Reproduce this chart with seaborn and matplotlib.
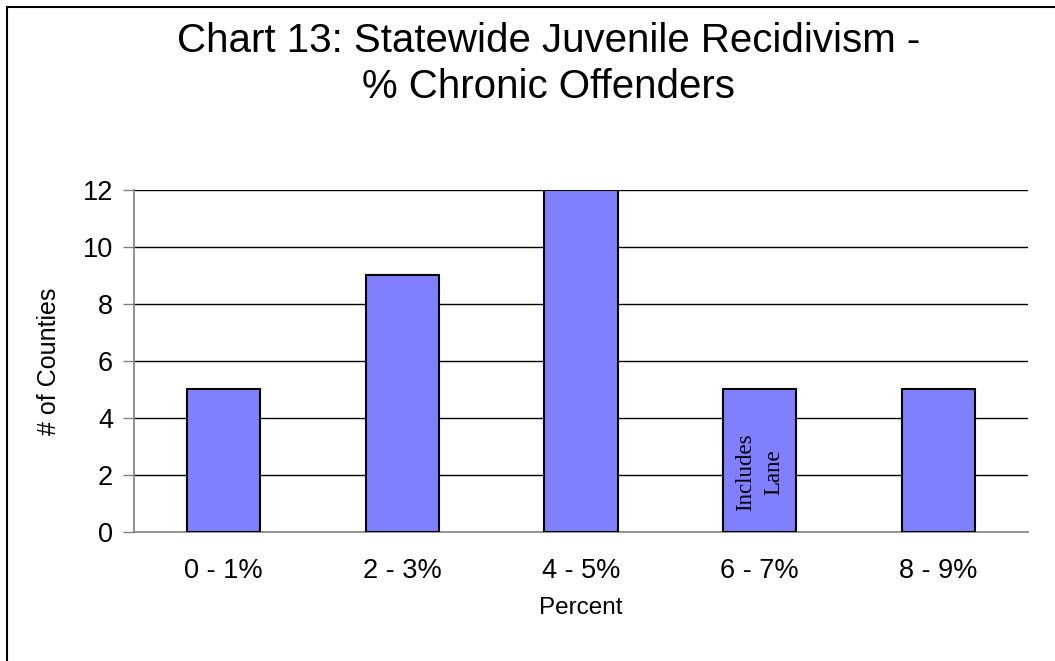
import matplotlib
matplotlib.use("Agg")
import matplotlib.pyplot as plt
import seaborn as sns
import pandas as pd
from matplotlib.patches import Rectangle

categories = ["0 - 1%", "2 - 3%", "4 - 5%", "6 - 7%", "8 - 9%"]
counts = [5, 9, 12, 5, 5]
yticks = [0, 2, 4, 6, 8, 10, 12]
title_lines = ["Chart 13: Statewide Juvenile Recidivism -", "% Chronic Offenders"]

sns.set_theme(style="white")
plt.rcParams['font.family'] = ['Liberation Sans', 'DejaVu Sans']
plt.rcParams['text.color'] = 'black'
plt.rcParams['axes.labelcolor'] = 'black'
plt.rcParams['xtick.color'] = 'black'
plt.rcParams['ytick.color'] = 'black'

df = pd.DataFrame({"Percent": categories, "Counties": counts})

fig = plt.figure(figsize=(10.55, 6.61), dpi=100)
ax = fig.add_axes([0.127, 0.1952, 0.8474, 0.5174])

sns.barplot(data=df, x="Percent", y="Counties", ax=ax, color="#8080FF",
            saturation=1, width=0.41, edgecolor="black", linewidth=1.5, zorder=3)

ax.set_ylim(0, 12)
ax.set_xlim(-0.5, 4.5)
ax.set_yticks(yticks)
ax.set_yticklabels([str(v) for v in yticks], fontsize=19.5)
for y in yticks[1:]:
    ax.axhline(y, color="black", linewidth=1, zorder=1)

ax.set_xticks([i - 0.5 for i in range(len(categories) + 1)])
ax.set_xticklabels([])
ax.set_xticks(range(len(categories)), minor=True)
ax.set_xticklabels(categories, minor=True, fontsize=19.5)
ax.tick_params(axis="x", which="minor", length=0, pad=19)
ax.tick_params(axis="x", which="major", length=8, width=1, color="#808080", direction="out")
ax.tick_params(axis="y", length=8, width=1, color="#808080", labelcolor="black",
               direction="out", left=True, pad=7)

for s in ["top", "right"]:
    ax.spines[s].set_visible(False)
for s in ["left", "bottom"]:
    ax.spines[s].set_color("#808080")
    ax.spines[s].set_linewidth(1.2)

ax.set_xlabel("Percent", fontsize=17.5, labelpad=9)
ax.set_ylabel("# of Counties", fontsize=18, labelpad=16)

ax.text(3, 2.1, "Includes\nLane", rotation=90, ha="center", va="center",
        fontsize=16.5, family="Liberation Serif", zorder=4, linespacing=1.45)

fig.text(0.52, 1 - 52 / 661, title_lines[0], ha="center", va="baseline", fontsize=29)
fig.text(0.52, 1 - 98 / 661, title_lines[1], ha="center", va="baseline", fontsize=29)

fig.patches.append(Rectangle((7 / 1055, -0.05), 1.1, 1 - 7 / 661 + 0.05,
                             transform=fig.transFigure, fill=False,
                             edgecolor="black", linewidth=1.5))

fig.savefig("out.png", dpi=100)
